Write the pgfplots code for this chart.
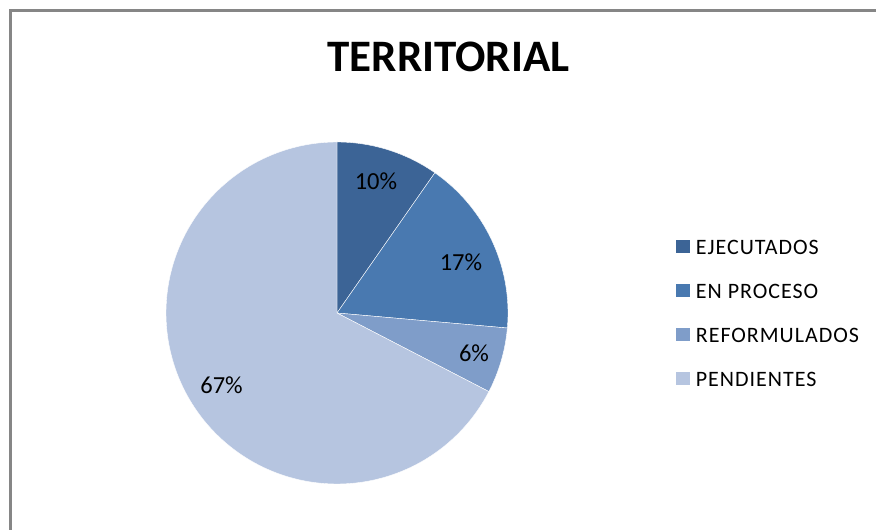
\documentclass[border=0pt]{standalone}
\usepackage{pgfplots}
\pgfplotsset{compat=1.18}
\usepackage{fontspec}
\setmainfont{Carlito}
\newfontfamily\legfont[LetterSpace=4.5]{Carlito}
\definecolor{cA}{RGB}{60,100,150}
\definecolor{cB}{RGB}{73,121,176}
\definecolor{cC}{RGB}{127,157,201}
\definecolor{cD}{RGB}{182,197,224}
\definecolor{framec}{RGB}{134,134,134}
% data (percent)
\def\vA{9.7}\def\vB{16.7}\def\vC{6.2}\def\vD{67.4}
\pgfmathsetmacro\aA{90}
\pgfmathsetmacro\aB{\aA-3.6*\vA}
\pgfmathsetmacro\aC{\aB-3.6*\vB}
\pgfmathsetmacro\aD{\aC-3.6*\vC}
\pgfmathsetmacro\aE{\aD-3.6*\vD}
\begin{document}
\begin{tikzpicture}[x=1pt,y=1pt]
\useasboundingbox (0,0) rectangle (876,530);
\draw[framec, line width=2.5pt] (10.5,-20) -- (10.5,519.5) -- (900,519.5);
\node[font=\fontsize{45}{54}\selectfont\bfseries, anchor=base, inner sep=0pt] at (448.5,458) {TERRITORIAL};
\begin{axis}[at={(337pt,217pt)}, anchor=origin, x=171pt, y=171pt,
  xmin=-1.1, xmax=1.1, ymin=-1.1, ymax=1.1, hide axis,
  legend style={draw=none, fill=none, at={(1.401,0.695)}, anchor=north west,
    inner sep=0pt, row sep=29pt, font=\legfont\fontsize{22}{26}\selectfont,
    nodes={inner sep=0pt, text height=14pt, text depth=0pt}},
  legend cell align=left,
  legend image code/.code={\draw[#1, draw=none] (0pt,-5.5pt) rectangle (13.5pt,8pt); \path (19.5pt,0pt);}
]
\addplot[fill=cA, draw=white, line width=0.4pt, domain=\aB:\aA, samples=80] ({cos(x)},{sin(x)}) -- (0,0) -- cycle;
\addlegendentry{EJECUTADOS}
\addplot[fill=cB, draw=white, line width=0.4pt, domain=\aC:\aB, samples=80] ({cos(x)},{sin(x)}) -- (0,0) -- cycle;
\addlegendentry{EN PROCESO}
\addplot[fill=cC, draw=white, line width=0.4pt, domain=\aD:\aC, samples=80] ({cos(x)},{sin(x)}) -- (0,0) -- cycle;
\addlegendentry{REFORMULADOS}
\addplot[fill=cD, draw=white, line width=0.4pt, domain=\aE:\aD, samples=200] ({cos(x)},{sin(x)}) -- (0,0) -- cycle;
\addlegendentry{PENDIENTES}
\node[font=\fontsize{24.5}{29}\selectfont, anchor=base, inner sep=0pt] at (axis cs:0.228,0.725) {10\%};
\node[font=\fontsize{24.5}{29}\selectfont, anchor=base, inner sep=0pt] at (axis cs:0.725,0.251) {17\%};
\node[font=\fontsize{24.5}{29}\selectfont, anchor=base, inner sep=0pt] at (axis cs:0.801,-0.281) {6\%};
\node[font=\fontsize{24.5}{29}\selectfont, anchor=base, inner sep=0pt] at (axis cs:-0.675,-0.468) {67\%};
\end{axis}
\end{tikzpicture}
\end{document}
